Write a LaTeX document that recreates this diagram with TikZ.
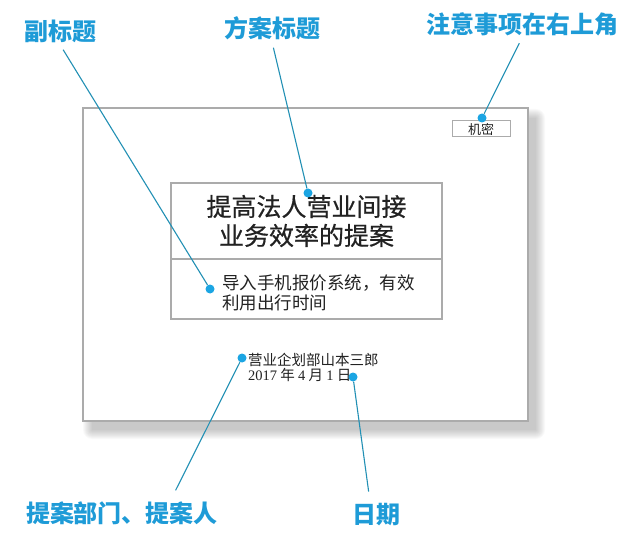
\documentclass[tikz,border=0pt]{standalone}
\usepackage{fontspec}
\setmainfont{Noto Sans CJK SC}
\newfontfamily\titlecjk{Noto Sans CJK SC}[FakeBold=0.6]
\newfontfamily\digitfont{Liberation Serif}
\usepackage{tikz}
\usetikzlibrary{calc, positioning}
\definecolor{labblue}{HTML}{1E9BD7}
\definecolor{leadc}{HTML}{2290B4}
\definecolor{dotc}{HTML}{1BA5E3}
\definecolor{rimgray}{HTML}{ABABAB}
\definecolor{inkc}{HTML}{222222}
\tikzstyle{lab}=[inner sep=2pt, text=labblue, font=\fontsize{24}{24}\selectfont\bfseries]
\tikzstyle{dot}=[inner sep=0pt, shape=circle, fill=dotc, minimum size=9pt]
\tikzstyle{lead}=[draw=leadc, line width=1.1pt]
\tikzstyle{box}=[draw=rimgray, line width=1.2pt]
\tikzset{>=stealth}

\begin{document}
\begin{tikzpicture}[x=1pt, y=-1pt]
\useasboundingbox (0,0) rectangle (640,540);
% the shadow and the sheet
\foreach \i in {0,...,9}
  \fill[black, opacity=0.025, rounded corners=\i pt] (92-\i,118-\i) rectangle (536+\i,430+\i);
\fill[white] (83,108) rectangle (528,421);
\draw[box, line width=1.6pt] (83,108) rectangle (528,421);
% the title and the subtitle
\node[box, inner sep=0pt, minimum width=271pt, minimum height=76pt, align=center, text=inkc, font=\titlecjk\fontsize{25}{29}\selectfont] (T0) at (306.5,221) {提高法人营业间接\\业务效率的提案};
\node[box, inner sep=0pt, minimum width=271pt, minimum height=60pt] (T1) at (306.5,289) {};
\node[inner sep=0pt, anchor=west, align=left, text=inkc, font=\fontsize{17.5}{20}\selectfont] (S0) at (222,293) {导入手机报价系统，有效\\利用出行时间};
% the confidential mark
\node[box, line width=1pt, inner sep=0pt, minimum width=58pt, minimum height=16pt, text=inkc, font=\fontsize{13}{13}\selectfont] (K0) at (481,129) {机密};
% the proposer and the date
\node[inner sep=0pt, anchor=west, align=left, text=inkc, font=\fontsize{14.5}{15.5}\selectfont] (N0) at (248,367.5) {营业企划部山本三郎\\{\digitfont 2017} 年 {\digitfont 4} 月 {\digitfont 1} 日};
%
% the dots
\node[dot] (D0) at (308,193) {};
\node[dot] (D1) at (210,289) {};
\node[dot] (D2) at (482,118) {};
\node[dot] (D3) at (242,358) {};
\node[dot] (D4) at (353,377) {};
% the labels
\node[lab] (L0) at (60,31) {副标题};
\node[lab] (L1) at (272,28) {方案标题};
\node[lab] (L2) at (522,24) {注意事项在右上角};
\node[lab] (L3) at (122,513) {提案部门、提案人};
\node[lab] (L4) at (376,515) {日期};
% the leads
\draw[lead, shorten <=6pt] (L0.south) -- (D1);
\draw[lead, shorten <=6pt] (L1.south) -- (D0);
\draw[lead, shorten <=6pt] (L2.south) -- (D2);
\draw[lead, shorten >=10pt] (D3) -- ($(L3.north)!0.5!(L3.north east)$);
\draw[lead, shorten >=10pt] (D4) -- ($(L4.north)+(-6,0)$);
\end{tikzpicture}
\end{document}
